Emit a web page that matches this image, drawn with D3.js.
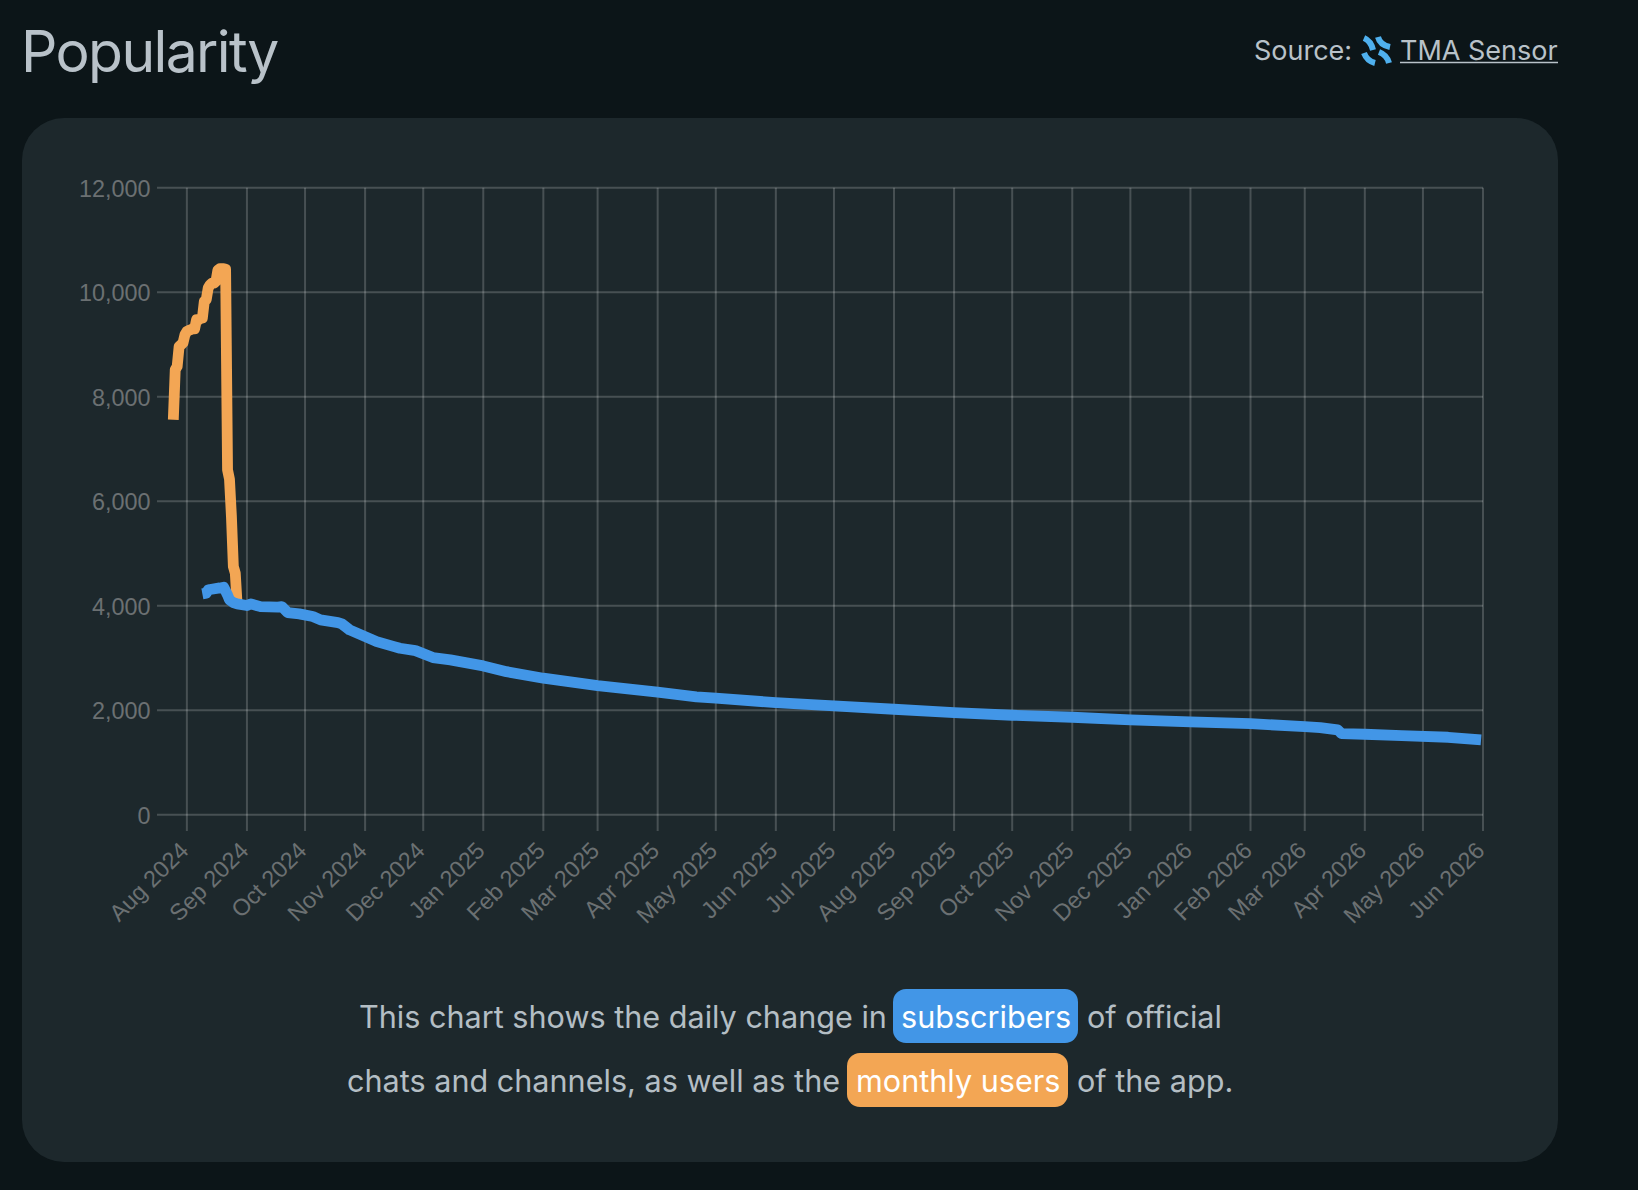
<!DOCTYPE html>
<html>
<head>
<meta charset="utf-8">
<title>Popularity</title>
<script src="https://cdn.jsdelivr.net/npm/d3@7/dist/d3.min.js"></script>
<style>
  html, body { margin: 0; padding: 0; background: #0c1518; }
  svg { display: block; }
  .ui { font-family: Inter, "Noto Sans", sans-serif; }
  .tick text { font-family: "Liberation Sans", Arial, sans-serif; font-size: 23.4px; fill: #6b7072; }
</style>
</head>
<body>
<svg id="chart" width="1638" height="1190"></svg>
<script>
// Monthly users of the app, daily readings
const usersDates = ["2024-07-25","2024-07-26","2024-07-27","2024-07-28","2024-07-29","2024-07-30","2024-07-31",
  "2024-08-01","2024-08-02","2024-08-03","2024-08-04","2024-08-05","2024-08-06","2024-08-07","2024-08-08","2024-08-09",
  "2024-08-10","2024-08-11","2024-08-12","2024-08-13","2024-08-14","2024-08-15","2024-08-16","2024-08-17","2024-08-18",
  "2024-08-19","2024-08-20","2024-08-21","2024-08-22","2024-08-23","2024-08-24","2024-08-25","2024-08-26","2024-08-27"];
const usersValues = [7560,8516,8580,8962,8995,9030,9185,
  9249,9270,9282,9300,9300,9473,9473,9495,9505,
  9824,9856,10079,10143,10175,10175,10207,10420,10450,
  10450,10450,10440,6600,6420,5710,4750,4620,3985];

// Subscribers of official chats and channels
const subsDates = ["2024-08-09","2024-08-11","2024-08-12","2024-08-13","2024-08-18","2024-08-20","2024-08-22","2024-08-23","2024-08-25","2024-08-27","2024-09-01","2024-09-03","2024-09-08",
  "2024-09-17","2024-09-19","2024-09-22","2024-09-28","2024-10-05","2024-10-09","2024-10-18","2024-10-20","2024-10-24",
  "2024-11-07","2024-11-16","2024-11-19","2024-11-27","2024-12-06","2024-12-15","2025-01-01","2025-01-13","2025-02-01",
  "2025-03-01","2025-04-01","2025-04-21","2025-05-01","2025-06-01","2025-07-01","2025-08-01","2025-09-01","2025-10-01",
  "2025-11-01","2025-12-01","2026-01-01","2026-02-01","2026-03-01","2026-03-09","2026-03-18","2026-03-20","2026-04-01",
  "2026-04-20","2026-05-14","2026-05-31"];
const subsValues = [4226,4240,4300,4310,4340,4354,4205,4112,4060,4035,4003,4035,3983,
  3972,3983,3868,3843,3792,3728,3677,3652,3537,
  3313,3217,3186,3140,3007,2962,2848,2738,2612,
  2470,2344,2255,2229,2145,2082,2018,1953,1903,
  1865,1813,1775,1743,1685,1666,1622,1551,1540,
  1513,1482,1430];

const monthTicks = ["2024-08-01","2024-09-01","2024-10-01","2024-11-01","2024-12-01","2025-01-01","2025-02-01","2025-03-01",
  "2025-04-01","2025-05-01","2025-06-01","2025-07-01","2025-08-01","2025-09-01","2025-10-01","2025-11-01","2025-12-01",
  "2026-01-01","2026-02-01","2026-03-01","2026-04-01","2026-05-01","2026-06-01"];
const valueTicks = [0,2000,4000,6000,8000,10000,12000];

const parseDay = d3.utcParse("%Y-%m-%d");
const svg = d3.select("#chart");

// Page furniture
svg.append("rect").attr("x",22).attr("y",118).attr("width",1536).attr("height",1044).attr("rx",42).attr("fill","#1d282c");
svg.append("text").attr("class","ui").attr("x",21).attr("y",72).attr("font-size",57).attr("letter-spacing",-1.6).attr("fill","#b9c2c9").text("Popularity");
svg.append("text").attr("class","ui").attr("x",1254).attr("y",60).attr("font-size",27).attr("fill","#b9c2c9").text("Source:");

// Four-stroke source logo
const logo = svg.append("g").attr("transform","translate(1376,50)").attr("fill","none").attr("stroke","#4fb0ee").attr("stroke-width",6);
["M-12,-12 Q-5,-9 -3,0","M2,-13 Q4,-5 14,-3","M-12,3 Q-9,11 -1,13","M3,2 Q11,5 13,13"].forEach(p => logo.append("path").attr("d",p));

svg.append("text").attr("class","ui").attr("x",1400).attr("y",60).attr("font-size",27).attr("fill","#b9c2c9").text("TMA Sensor");
svg.append("line").attr("x1",1400).attr("x2",1558).attr("y1",62.5).attr("y2",62.5).attr("stroke","#b9c2c9").attr("stroke-width",1.6);

// Scales
const x = d3.scaleUtc().domain([parseDay("2024-07-25"), parseDay("2026-06-01")]).range([173.3,1483]);
const y = d3.scaleLinear().domain([0,12000]).range([814.7,187.7]);

// Axes double as the grid
const gridColor = "rgba(255,255,255,0.19)";
const yAxis = svg.append("g").attr("transform","translate(157,0)")
  .call(d3.axisLeft(y).tickValues(valueTicks).tickSize(-1326).tickPadding(6.5).tickFormat(d3.format(",")).offset(0));
const xAxis = svg.append("g").attr("transform","translate(0,831)")
  .call(d3.axisBottom(x).tickValues(monthTicks.map(parseDay)).tickSize(-643.3).tickPadding(0).tickFormat(d3.utcFormat("%b %Y")).offset(0));
[xAxis,yAxis].forEach(a => {
  a.select(".domain").remove();
  a.selectAll(".tick line").attr("stroke",gridColor).attr("stroke-width",2);
});
yAxis.selectAll(".tick text").attr("dy","0.38em");
xAxis.selectAll(".tick text")
  .attr("text-anchor","end").attr("dy",0).attr("y",0)
  .attr("transform","translate(3,21) rotate(-45)");

// Series
const line = d3.line().x(d => x(d.date)).y(d => y(d.value));
const zip = (ds,vs) => ds.map((d,i) => ({date:parseDay(d), value:vs[i]}));
const drawSeries = (data,color) => svg.append("path").datum(data)
  .attr("d",line).attr("fill","none").attr("stroke",color).attr("stroke-width",10.8)
  .attr("stroke-linejoin","round").attr("stroke-linecap","butt");
drawSeries(zip(usersDates,usersValues),"#f3a654");
drawSeries(zip(subsDates,subsValues),"#4296e7");

// Caption with the two coloured legend chips
const caption = svg.append("g").attr("class","ui").attr("font-size",30.6);
const plain = (px,py,s) => caption.append("text").attr("x",px).attr("y",py).attr("fill","#b4bec4").text(s);
const chip = (rx,ry,w,h,color,tx,ty,s) => {
  caption.append("rect").attr("x",rx).attr("y",ry).attr("width",w).attr("height",h).attr("rx",13).attr("fill",color);
  caption.append("text").attr("x",tx).attr("y",ty).attr("fill","#ffffff").text(s);
};
plain(359,1028,"This chart shows the daily change in");
chip(893,989,185,54,"#4296e7",901,1028,"subscribers");
plain(1087,1028,"of official");
plain(347,1092,"chats and channels, as well as the");
chip(847,1053,221,54,"#f3a654",856,1092,"monthly users");
plain(1077,1092,"of the app.");
</script>
</body>
</html>
